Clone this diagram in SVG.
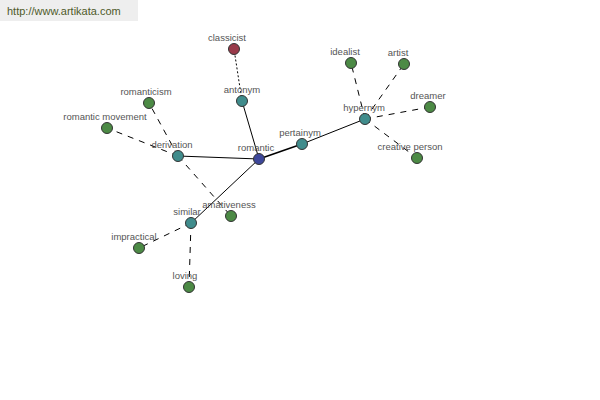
<svg xmlns="http://www.w3.org/2000/svg" width="600" height="400" viewBox="0 0 600 400">
<style>
.e{stroke:#000;stroke-width:1;fill:none}
.d{stroke-dasharray:6,6}
.t{stroke-dasharray:2,2}
.n{stroke:#333;stroke-width:1}
.g{fill:#4c8a45}
.c{fill:#408c8c}
.b{fill:#3d479a}
.r{fill:#993a4a}
text{font-family:"Liberation Sans",Arial,sans-serif;font-size:9.5px;fill:#555;text-anchor:middle}
</style>
<rect width="600" height="400" fill="#fff"/>
<rect x="0" y="0" width="138" height="21" fill="#eeeeee"/>
<text x="7" y="15" style="font-size:11px;fill:#4f5a2a;text-anchor:start">http://www.artikata.com</text>
<g id="connectors">
<line class="e" x1="259" y1="159" x2="242" y2="101"/>
<line class="e t" x1="242" y1="101" x2="234" y2="49"/>
<line class="e" x1="259" y1="159" x2="178" y2="156"/>
<line class="e d" x1="178" y1="156" x2="149" y2="103"/>
<line class="e d" x1="178" y1="156" x2="107" y2="128"/>
<line class="e d" x1="178" y1="156" x2="231" y2="216"/>
<line class="e" style="stroke-width:1.5" x1="259" y1="159" x2="302" y2="144"/>
<line class="e" x1="302" y1="144" x2="365" y2="119"/>
<line class="e d" x1="365" y1="119" x2="351" y2="63"/>
<line class="e d" x1="365" y1="119" x2="404" y2="64"/>
<line class="e d" x1="365" y1="119" x2="430" y2="107"/>
<line class="e d" x1="365" y1="119" x2="417" y2="158"/>
<line class="e" x1="259" y1="159" x2="191" y2="223"/>
<line class="e d" x1="191" y1="223" x2="139" y2="248"/>
<line class="e d" x1="191" y1="223" x2="189" y2="287"/>
</g>
<g id="romantic"><circle class="n b" cx="259" cy="159" r="5.5"/><text x="256" y="151">romantic</text></g>
<g id="antonym"><circle class="n c" cx="242" cy="101" r="5.5"/><text x="242" y="93">antonym</text></g>
<g id="classicist"><circle class="n r" cx="234" cy="49" r="5.5"/><text x="227" y="41">classicist</text></g>
<g id="derivation"><circle class="n c" cx="178" cy="156" r="5.5"/><text x="172" y="148">derivation</text></g>
<g id="romanticism"><circle class="n g" cx="149" cy="103" r="5.5"/><text x="146" y="95">romanticism</text></g>
<g id="romantic-movement"><circle class="n g" cx="107" cy="128" r="5.5"/><text x="105" y="120">romantic movement</text></g>
<g id="pertainym"><circle class="n c" cx="302" cy="144" r="5.5"/><text x="300" y="136">pertainym</text></g>
<g id="hypernym"><circle class="n c" cx="365" cy="119" r="5.5"/><text x="364" y="111">hypernym</text></g>
<g id="idealist"><circle class="n g" cx="351" cy="63" r="5.5"/><text x="345" y="55">idealist</text></g>
<g id="artist"><circle class="n g" cx="404" cy="64" r="5.5"/><text x="398" y="56">artist</text></g>
<g id="dreamer"><circle class="n g" cx="430" cy="107" r="5.5"/><text x="428" y="99">dreamer</text></g>
<g id="creative-person"><circle class="n g" cx="417" cy="158" r="5.5"/><text x="410" y="150">creative person</text></g>
<g id="similar"><circle class="n c" cx="191" cy="223" r="5.5"/><text x="187" y="215">similar</text></g>
<g id="amativeness"><circle class="n g" cx="231" cy="216" r="5.5"/><text x="229" y="208">amativeness</text></g>
<g id="impractical"><circle class="n g" cx="139" cy="248" r="5.5"/><text x="134" y="240">impractical</text></g>
<g id="loving"><circle class="n g" cx="189" cy="287" r="5.5"/><text x="185" y="279">loving</text></g>
</svg>
